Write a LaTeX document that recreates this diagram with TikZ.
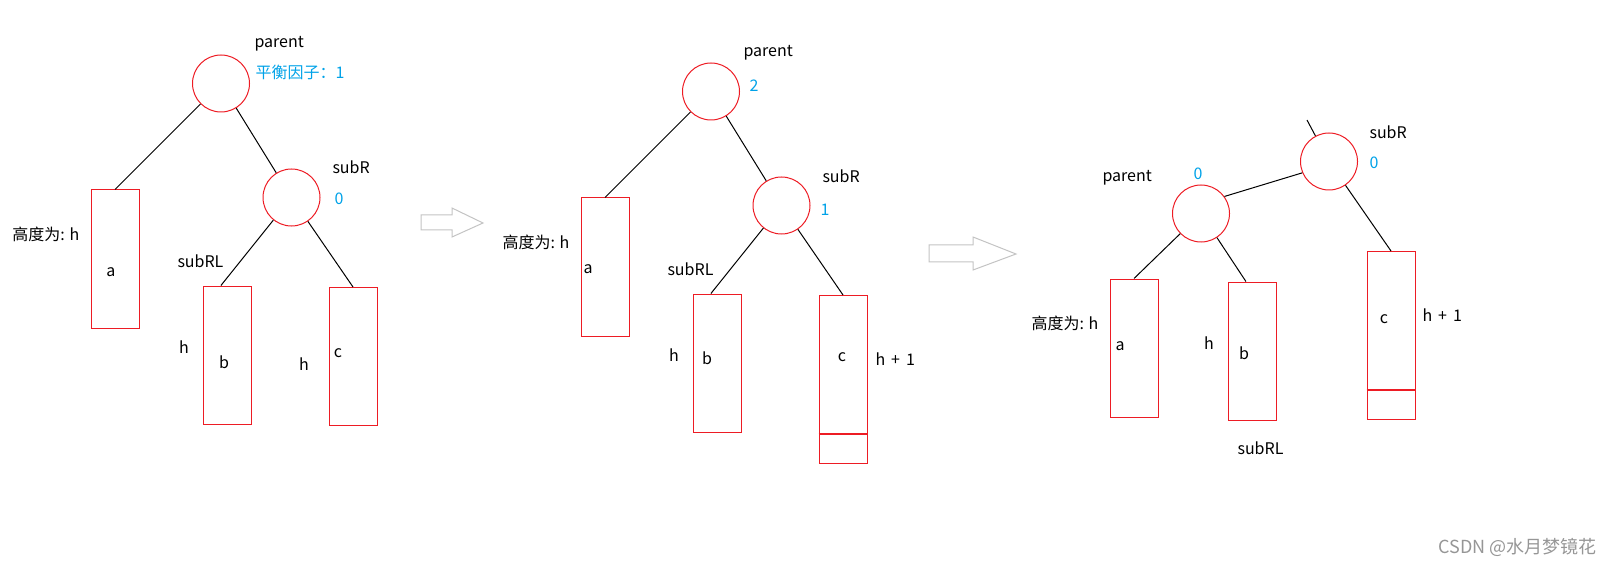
\documentclass[tikz,border=0pt]{standalone}
\usepackage{fontspec}
\setmainfont{Noto Sans CJK SC}
\definecolor{paintred}{RGB}{237,28,36}
\definecolor{paintblue}{RGB}{0,162,232}
\definecolor{arrowgray}{RGB}{195,195,195}
\definecolor{markgray}{RGB}{150,150,150}
\newcommand{\hplus}{h\hskip6pt+\hskip6pt1}

\begin{document}
\begin{tikzpicture}[x=1pt, y=-1pt, line width=1pt,
      every node/.style = {inner sep=0, font=\fontsize{16}{19}\selectfont},
      tnode/.style = {shape=circle, draw=paintred, minimum size=57pt},
      sbox/.style = {shape=rectangle, draw=paintred, minimum width=48pt, minimum height=138pt},
      extra/.style = {shape=rectangle, draw=paintred, minimum width=48pt, minimum height=29pt},
      lbl/.style = {anchor=west},
      bf/.style = {anchor=west, text=paintblue},
      bigarrow/.style = {draw=arrowgray}]
    \useasboundingbox (0,0) rectangle (1612,564);

    % first tree
    \node[tnode] (p1) at (221,83.5) {};
    \node[tnode] (s1) at (291.5,197.5) {};
    \node[sbox] (a1) at (115,259) {};
    \node[sbox] (b1) at (227,355) {};
    \node[sbox] (c1) at (353,356.5) {};
    \draw (p1) -- (a1.north);
    \draw (p1) -- (s1);
    \draw (s1) -- (b1.95);
    \draw (s1) -- (c1.north);
    \node[lbl] (p1name) at (254,44) {parent};
    \node[bf] (p1bf) at (255,72) {平衡因子：1};
    \node[lbl] (s1name) at (332,167) {subR};
    \node[bf] (s1bf) at (334,199) {0};
    \node[lbl] (a1h) at (12,234) {高度为: h};
    \node (a1txt) at (111,272) {a};
    \node[lbl] (b1name) at (177,261) {subRL};
    \node (b1txt) at (224,362) {b};
    \node (b1h) at (184,347) {h};
    \node (c1txt) at (338,353) {c};
    \node (c1h) at (304,364) {h};

    \draw[bigarrow] (421,215) -- (452,215) -- (452,208) -- (483,223) -- (452,237) -- (452,230) -- (421,230) -- cycle;

    % second tree
    \node[tnode] (p2) at (711,91.5) {};
    \node[tnode] (s2) at (781.5,205.5) {};
    \node[sbox] (a2) at (605,267) {};
    \node[sbox] (b2) at (717,363) {};
    \node[sbox] (c2) at (843,364.5) {};
    \node[extra] (c2x) at (843,448.5) {};
    \draw[paintred, line width=2pt] (c2.south west) -- (c2.south east);
    \draw (p2) -- (a2.north);
    \draw (p2) -- (s2);
    \draw (s2) -- (b2.95);
    \draw (s2) -- (c2.north);
    \node[lbl] (p2name) at (743,53) {parent};
    \node[bf] (p2bf) at (749,86) {2};
    \node[lbl] (s2name) at (822,176) {subR};
    \node[bf] (s2bf) at (820,210) {1};
    \node[lbl] (a2h) at (502,242) {高度为: h};
    \node[lbl] (a2txt) at (583,269) {a};
    \node[lbl] (b2name) at (667,269) {subRL};
    \node (b2txt) at (707,358) {b};
    \node (b2h) at (674,355) {h};
    \node (c2txt) at (842,357) {c};
    \node[lbl] (c2h) at (875,359) {\hplus};

    \draw[bigarrow] (929,245) -- (973,245) -- (973,237) -- (1016,254) -- (973,270) -- (973,262) -- (929,262) -- cycle;

    % third tree
    \node[tnode] (s3) at (1329,161.5) {};
    \node[tnode] (p3) at (1201,213.5) {};
    \node[sbox] (a3) at (1134,348) {};
    \node[sbox] (b3) at (1252,351) {};
    \node[sbox] (c3) at (1391,320.5) {};
    \node[extra] (c3x) at (1391,404.5) {};
    \draw[paintred, line width=2pt] (c3.south west) -- (c3.south east);
    \coordinate (s3up) at (1307,120);
    \draw (s3) -- (s3up);
    \draw (p3.36) -- (s3.203);
    \draw (p3) -- (a3.north);
    \draw (p3) -- (b3.95);
    \draw (s3) -- (c3.north);
    \node[lbl] (s3name) at (1369,132) {subR};
    \node[bf] (s3bf) at (1369,163) {0};
    \node[lbl] (p3name) at (1102,178) {parent};
    \node[bf] (p3bf) at (1193,174) {0};
    \node[lbl] (a3h) at (1031,323) {高度为: h};
    \node (a3txt) at (1120,346) {a};
    \node (b3txt) at (1244,353) {b};
    \node (b3h) at (1209,343) {h};
    \node[lbl] (b3name) at (1237,448) {subRL};
    \node (c3txt) at (1384,319) {c};
    \node[lbl] (c3h) at (1422,315) {\hplus};

    \node[anchor=east, text=markgray, font=\fontsize{18}{20}\selectfont] (mark) at (1597,547) {CSDN @水月梦镜花};
\end{tikzpicture}
\end{document}
